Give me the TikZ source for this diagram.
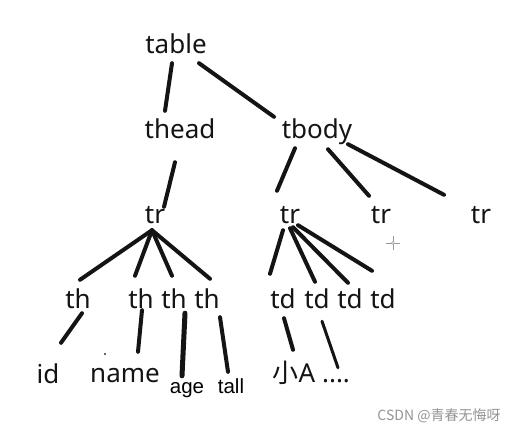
\documentclass[tikz,border=0pt]{standalone}
\usepackage{fontspec}
\setmainfont{Noto Sans}
\newfontfamily\cjk{Noto Sans CJK SC}
\newfontfamily\arial{Liberation Sans}
\usetikzlibrary{calc}

\tikzset{
  word/.style={anchor=base, inner sep=1pt, text height=18pt, text depth=5pt,
    font=\fontsize{26}{30}\selectfont, text=black!92},
  small word/.style={anchor=base, inner sep=1pt, text height=14pt, text depth=4pt,
    font=\arial\fontsize{20.5}{24}\selectfont, text=black},
  stroke/.style={line width=4pt, line cap=round, color=black!92},
}

\begin{document}
\begin{tikzpicture}[x=1pt, y=-1pt]
			%%%%% START %%%%%
			\useasboundingbox[fill=white] (0,0) rectangle (519,431);
			
			\node[word] (table) at (176,53) {table};
			\node[word] (thead) at (180,138) {thead};
			\node[word] (tbody) at (317,138) {tbody};
			
			\node[word] (trA) at (155,223) {tr};
			\node[word] (trB) at (290,223) {tr};
			\node[word] (trC) at (381,223) {tr};
			\node[word] (trD) at (481,223) {tr};
			
			\node[word] (thA) at (78,308) {th};
			\node[word] (thB) at (141,308) {th};
			\node[word] (thC) at (174,308) {th};
			\node[word] (thD) at (207,308) {th};
			
			\node[word] (tdA) at (283,308) {td};
			\node[word] (tdB) at (317,308) {td};
			\node[word] (tdC) at (350,308) {td};
			\node[word] (tdD) at (383,308) {td};
			
			\node[word] (id) at (48,383) {id};
			\node[word] (name) at (125,382) {name};
			\node[small word] (age) at (187,393) {age};
			\node[small word] (tall) at (231,393) {tall};
			\node[word] (xiaoA) at (294,382) {{\cjk 小}A};
			\node[word] (dots) at (336,382) {....};
			
			\draw[stroke] ($(table.south)+(-4,4)$) -- ($(thead.north)+(-15,-8)$);
			\draw[stroke] ($(table.south)+(23,4)$) -- ($(tbody.north)+(-43,-2)$);
			\draw[stroke] ($(thead.south)+(-5,18)$) -- ($(trA.north)+(9,3)$);
			\draw[stroke] ($(tbody.south)+(-22,4)$) -- ($(trB.north)+(-13,-13)$);
			\draw[stroke] ($(tbody.south)+(11,5)$) -- ($(trC.north)+(-12,-8)$);
			\draw[stroke] ($(tbody.south)+(31,0)$) -- ($(trD.north)+(-37,-9)$);
			
			\draw[stroke] ($(trA.south)+(-3,1)$) -- ($(thA.north)+(2,-9)$);
			\draw[stroke] ($(trA.south)+(-3,1)$) -- ($(thB.north)+(-6,-13)$);
			\draw[stroke] ($(trA.south)+(-3,1)$) -- ($(thC.north)+(-2,-13)$);
			\draw[stroke] ($(trA.south)+(-3,1)$) -- ($(thD.north)+(3,-10)$);
			
			\draw[stroke] ($(trB.south)+(-7,1)$) -- ($(tdA.north)+(-13,-15)$);
			\draw[stroke] ($(trB.south)+(0,-1)$) -- ($(tdB.north)+(-2,-7)$);
			\draw[stroke] ($(trB.south)+(3,-2)$) -- ($(tdC.north)+(-2,-6)$);
			\draw[stroke] ($(trB.south)+(8,-4)$) -- ($(tdD.north)+(-11,-18)$);
			
			\draw[stroke] ($(thA.south)+(4,-1)$) -- ($(id.north)+(13,-21)$);
			\draw[stroke] ($(thB.south)+(1,-4)$) -- ($(name.north)+(13,-11)$);
			\draw[stroke, line width=5pt] ($(thC.south)+(11,-1)$) -- ($(age.north)+(-5,-2)$);
			\draw[stroke] ($(thD.south)+(13,3)$) -- ($(tall.north)+(-3,-6)$);
			\draw[stroke] ($(tdA.south)+(1,4)$) -- ($(xiaoA.north)+(-1,-13)$);
			\draw[stroke, line width=3pt] ($(tdB.south)+(5,7)$) -- ($(dots.north)+(2,5)$);
			
			\fill[black!80] (105,354) circle (1.2);
			\draw[black!40, line width=0.8pt] (386,243) -- (400,243) (393,236) -- (393,250);
			\draw[black!40, fill=white, line width=0.6pt] (393,243) circle (1.5);
			
			\node[anchor=base, font=\cjk\fontsize{14}{16}\selectfont, text=black!42] (mark) at (439,420) {CSDN @青春无悔呀};
			%%%%% END %%%%%
\end{tikzpicture}
\end{document}
